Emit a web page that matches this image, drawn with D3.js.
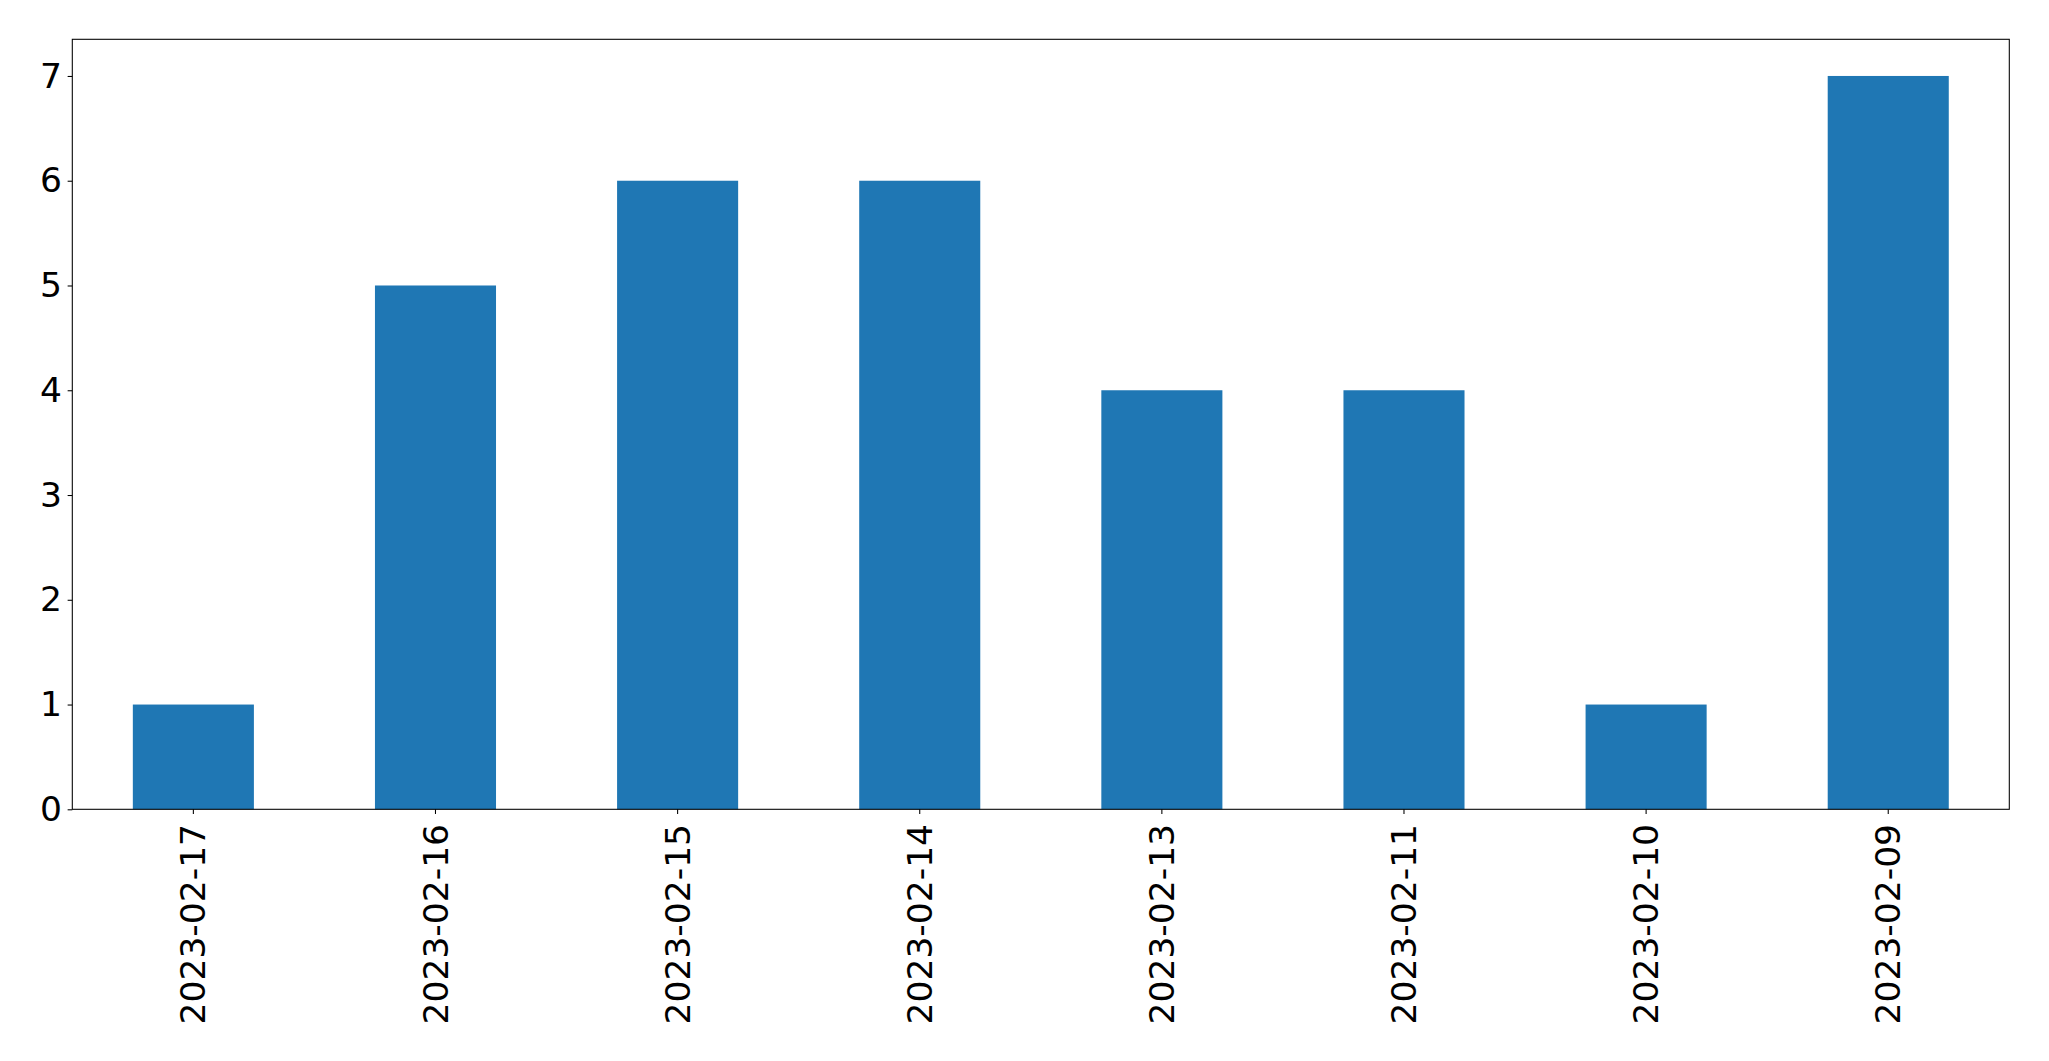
<!DOCTYPE html>
<html>
<head>
<meta charset="utf-8">
<script src="https://cdn.jsdelivr.net/npm/d3@7"></script>
<style>
  html, body { margin: 0; padding: 0; background: #fff; }
  svg { display: block; }
  text { font-family: "DejaVu Sans", sans-serif; fill: #000; }
</style>
</head>
<body>
<svg id="chart" width="2049" height="1061"></svg>
<script>
const categories = ["2023-02-17", "2023-02-16", "2023-02-15", "2023-02-14", "2023-02-13", "2023-02-11", "2023-02-10", "2023-02-09"];
const values = [1, 5, 6, 6, 4, 4, 1, 7];
const yTicks = [0, 1, 2, 3, 4, 5, 6, 7];

const W = 2049, H = 1061;
const margin = { left: 72.3, right: W - 2009.3, top: 39.3, bottom: H - 809.3 };
const iw = W - margin.left - margin.right;
const ih = H - margin.top - margin.bottom;
const fontSize = 34.5;
const tickLen = 4.67, pad = 4.67;

const svg = d3.select("#chart");
const g = svg.append("g").attr("transform", `translate(${margin.left},${margin.top})`);

const x = d3.scaleBand().domain(categories).range([0, iw]).paddingInner(0.5).paddingOuter(0.25);
const yMax = d3.max(values) * 1.05;
const y = d3.scaleLinear().domain([0, yMax]).range([ih, 0]);

g.selectAll("rect.bar").data(values).enter().append("rect")
  .attr("class", "bar")
  .attr("x", (d, i) => x(categories[i]))
  .attr("width", x.bandwidth())
  .attr("y", d => y(d))
  .attr("height", d => y(0) - y(d))
  .attr("fill", "#1f77b4");

// Y axis
const yAxis = g.append("g").call(d3.axisLeft(y).tickValues(yTicks).tickFormat(d3.format("d")).tickSize(tickLen).tickPadding(pad + 1));
yAxis.select(".domain").remove();
yAxis.selectAll("line").attr("stroke", "#000").attr("stroke-width", 1.07);
yAxis.selectAll("text").attr("font-size", fontSize).attr("font-family", "DejaVu Sans, sans-serif").attr("fill", "#000");

// X axis
const xAxis = g.append("g").attr("transform", `translate(0,${ih})`)
  .call(d3.axisBottom(x).tickSize(tickLen).tickPadding(pad));
xAxis.select(".domain").remove();
xAxis.selectAll("line").attr("stroke", "#000").attr("stroke-width", 1.07);
xAxis.selectAll("text")
  .attr("font-size", fontSize)
  .attr("font-family", "DejaVu Sans, sans-serif")
  .attr("fill", "#000")
  .attr("text-anchor", "end")
  .attr("dy", "0.35em")
  .attr("transform", `translate(0,${tickLen + pad + 5.3}) rotate(-90)`)
  .attr("x", 0).attr("y", 0);

// Frame
g.append("rect").attr("x", 0).attr("y", 0).attr("width", iw).attr("height", ih)
  .attr("fill", "none").attr("stroke", "#000").attr("stroke-width", 1.07);
</script>
</body>
</html>
